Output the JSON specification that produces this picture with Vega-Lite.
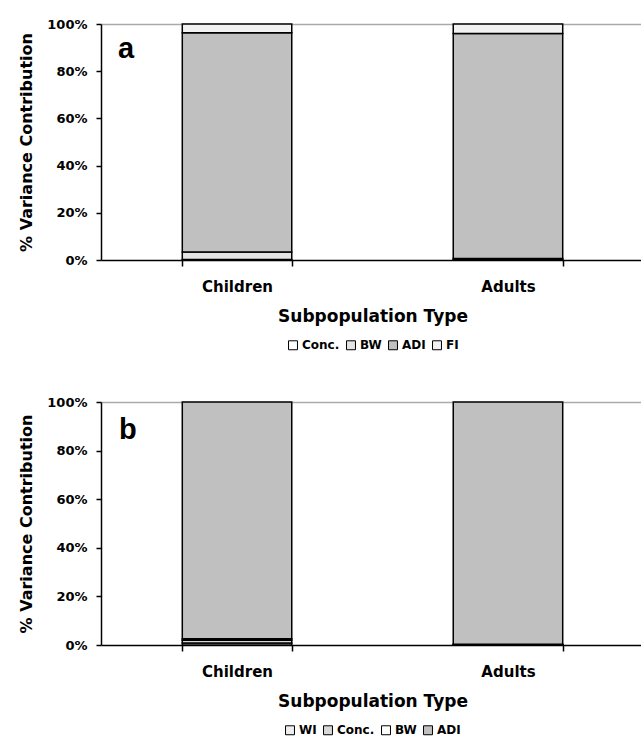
{
  "$schema": "https://vega.github.io/schema/vega-lite/v6.json",
  "padding": {"left": 18, "top": 18, "right": 0, "bottom": 0},
  "background": "white",
  "datasets": {
    "a": [
      {"population": "Children", "component": "Conc.", "ord": 1, "value": 0.2},
      {"population": "Children", "component": "BW", "ord": 2, "value": 3.2},
      {"population": "Children", "component": "ADI", "ord": 3, "value": 92.9},
      {"population": "Children", "component": "FI", "ord": 4, "value": 3.7},
      {"population": "Adults", "component": "Conc.", "ord": 1, "value": 0.2},
      {"population": "Adults", "component": "BW", "ord": 2, "value": 0.4},
      {"population": "Adults", "component": "ADI", "ord": 3, "value": 95.4},
      {"population": "Adults", "component": "FI", "ord": 4, "value": 4.0}
    ],
    "b": [
      {"population": "Children", "component": "WI", "ord": 1, "value": 0.8},
      {"population": "Children", "component": "Conc.", "ord": 2, "value": 1.2},
      {"population": "Children", "component": "BW", "ord": 3, "value": 0.6},
      {"population": "Children", "component": "ADI", "ord": 4, "value": 97.4},
      {"population": "Adults", "component": "WI", "ord": 1, "value": 0.1},
      {"population": "Adults", "component": "Conc.", "ord": 2, "value": 0.1},
      {"population": "Adults", "component": "BW", "ord": 3, "value": 0.1},
      {"population": "Adults", "component": "ADI", "ord": 4, "value": 99.7}
    ]
  },
  "config": {
    "font": "DejaVu Sans",
    "view": {"stroke": null},
    "concat": {"spacing": 44},
    "axis": {
      "domainColor": "black",
      "domainWidth": 1.5,
      "tickColor": "black",
      "tickWidth": 1.5,
      "labelColor": "black",
      "titleColor": "black",
      "labelFont": "DejaVu Sans",
      "titleFont": "DejaVu Sans",
      "labelFontWeight": "bold",
      "titleFontWeight": "bold"
    },
    "legend": {
      "labelFont": "DejaVu Sans",
      "labelFontWeight": "bold",
      "labelFontSize": 12,
      "labelColor": "black",
      "symbolType": "square",
      "symbolSize": 80,
      "symbolStrokeColor": "black",
      "symbolStrokeWidth": 1,
      "columnPadding": 4,
      "labelOffset": 3,
      "offset": 15,
      "padding": 0,
      "layout": {"bottom": {"anchor": "middle"}}
    }
  },
  "resolve": {"scale": {"color": "independent"}, "legend": {"color": "independent"}},
  "vconcat": [
    {
      "width": 543,
      "height": 236,
      "layer": [
        {
          "data": {"name": "a"},
          "mark": {"type": "bar", "stroke": "black", "strokeWidth": 1.5},
          "encoding": {
            "x": {
              "field": "population", "type": "nominal", "sort": ["Children", "Adults"],
              "scale": {"paddingInner": 0.596, "paddingOuter": 0.3},
              "axis": {"title": "Subpopulation Type", "labelAngle": 0, "tickBand": "extent", "tickSize": 6, "labelPadding": 13, "labelFontSize": 15, "titleFontSize": 17, "titlePadding": 14}
            },
            "y": {
              "field": "value", "type": "quantitative", "stack": "zero",
              "scale": {"domain": [0, 100]},
              "axis": {
                "values": [0, 20, 40, 60, 80, 100], "labelExpr": "datum.value + '%'",
                "title": "% Variance Contribution", "titleFontSize": 16, "titlePadding": 12,
                "labelFontSize": 13, "tickSize": 5, "labelPadding": 9,
                "grid": true, "gridColor": "#aaaaaa", "gridWidth": 1.5,
                "gridOpacity": {"condition": {"test": "datum.value == 100", "value": 1}, "value": 0}
              }
            },
            "color": {
              "field": "component", "type": "nominal",
              "scale": {"domain": ["Conc.", "BW", "ADI", "FI"], "range": ["#ffffff", "#e4e4e4", "#c0c0c0", "#f2f2f2"]},
              "legend": {"orient": "bottom", "direction": "horizontal", "title": null}
            },
            "order": {"field": "ord", "type": "quantitative"}
          }
        },
        {
          "data": {"values": [{"letter": "a", "population": "Children", "top": 100}]},
          "mark": {"type": "text", "align": "left", "baseline": "alphabetic", "dx": -119, "dy": 34, "fontSize": 29, "font": "Liberation Sans", "fontWeight": "bold", "fill": "black"},
          "encoding": {
            "x": {"field": "population", "type": "nominal", "sort": ["Children", "Adults"]},
            "y": {"field": "top", "type": "quantitative", "stack": null},
            "text": {"field": "letter", "type": "nominal"}
          }
        }
      ]
    },
    {
      "width": 543,
      "height": 243,
      "layer": [
        {
          "data": {"name": "b"},
          "mark": {"type": "bar", "stroke": "black", "strokeWidth": 1.5},
          "encoding": {
            "x": {
              "field": "population", "type": "nominal", "sort": ["Children", "Adults"],
              "scale": {"paddingInner": 0.596, "paddingOuter": 0.3},
              "axis": {"title": "Subpopulation Type", "labelAngle": 0, "tickBand": "extent", "tickSize": 6, "labelPadding": 13, "labelFontSize": 15, "titleFontSize": 17, "titlePadding": 14}
            },
            "y": {
              "field": "value", "type": "quantitative", "stack": "zero",
              "scale": {"domain": [0, 100]},
              "axis": {
                "values": [0, 20, 40, 60, 80, 100], "labelExpr": "datum.value + '%'",
                "title": "% Variance Contribution", "titleFontSize": 16, "titlePadding": 12,
                "labelFontSize": 13, "tickSize": 5, "labelPadding": 9,
                "grid": true, "gridColor": "#aaaaaa", "gridWidth": 1.5,
                "gridOpacity": {"condition": {"test": "datum.value == 100", "value": 1}, "value": 0}
              }
            },
            "color": {
              "field": "component", "type": "nominal",
              "scale": {"domain": ["WI", "Conc.", "BW", "ADI"], "range": ["#eeeeee", "#d8d8d8", "#ffffff", "#c0c0c0"]},
              "legend": {"orient": "bottom", "direction": "horizontal", "title": null}
            },
            "order": {"field": "ord", "type": "quantitative"}
          }
        },
        {
          "data": {"values": [{"letter": "b", "population": "Children", "top": 100}]},
          "mark": {"type": "text", "align": "left", "baseline": "alphabetic", "dx": -118, "dy": 37, "fontSize": 29, "font": "Liberation Sans", "fontWeight": "bold", "fill": "black"},
          "encoding": {
            "x": {"field": "population", "type": "nominal", "sort": ["Children", "Adults"]},
            "y": {"field": "top", "type": "quantitative", "stack": null},
            "text": {"field": "letter", "type": "nominal"}
          }
        }
      ]
    }
  ]
}
